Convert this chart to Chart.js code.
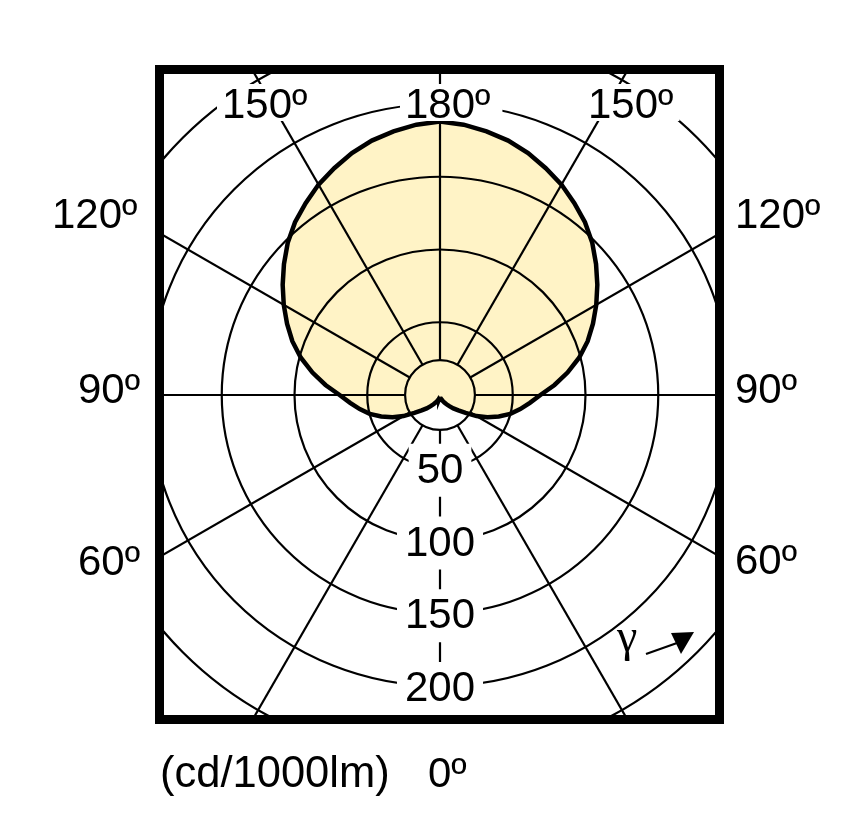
<!DOCTYPE html>
<html>
<head>
<meta charset="utf-8">
<script src="https://cdn.jsdelivr.net/npm/chart.js@4.4.1/dist/chart.umd.min.js"></script>
<style>
html,body{margin:0;padding:0;background:#fff;}
canvas{display:block;}
</style>
</head>
<body>
<canvas id="c" width="863" height="833"></canvas>
<script>
// ---- data (gamma in degrees, intensity in cd/1000lm) ----
const gammaDeg = [0,5,10,15,20,25,30,35,40,45,50,55,60,65,70,75,80,85,90,95,100,105,110,115,120,125,130,135,140,145,150,155,160,165,170,175,180];
const intensity = [1.5,1.6,2,2.6,3.5,4.6,6,7.8,10,13,16.5,21.5,29,36,43,50,56,62,69,79,89,99,108,116,124,132,140,148,155,161,167,172,177,181,184,186.5,188];
const ringValues = [24,50,100,150,200,250,300];
const ringLabelValues = [50,100,150,200];
const spokeAngles = [0,30,60,90,120,150,180,210,240,270,300,330];
const angleLabelTexts = ['150º','180º','150º','120º','120º','90º','90º','60º','60º','0º'];
const unitLabel = '(cd/1000lm)';
const gammaSymbol = 'γ';

// closed outline: left half 0 -> 180, right half 180 -> 0
const outline = [];
for (let i = 0; i < gammaDeg.length; i++) {
  const g = gammaDeg[i] * Math.PI / 180;
  outline.push({x: -intensity[i] * Math.sin(g), y: -intensity[i] * Math.cos(g)});
}
for (let i = gammaDeg.length - 1; i >= 0; i--) {
  const g = gammaDeg[i] * Math.PI / 180;
  outline.push({x: intensity[i] * Math.sin(g), y: -intensity[i] * Math.cos(g)});
}

const FONT = '42px "Liberation Sans", Arial, sans-serif';

const gridPlugin = {
  id: 'polarGrid',
  beforeDatasetDraw(chart) {
    const {ctx, chartArea: a, scales: {x, y}} = chart;
    const cx = x.getPixelForValue(0), cy = y.getPixelForValue(0);
    const k = x.getPixelForValue(1) - cx;
    ctx.save();
    ctx.beginPath();
    ctx.rect(a.left, a.top, a.right - a.left, a.bottom - a.top);
    ctx.clip();
    ctx.strokeStyle = '#000';
    ctx.lineWidth = 2.2;
    ringValues.forEach(v => {
      ctx.beginPath();
      ctx.arc(cx, cy, v * k, 0, Math.PI * 2);
      ctx.stroke();
    });
    const r0 = ringValues[0] * k;
    spokeAngles.forEach(ang => {
      const g = ang * Math.PI / 180;
      const dx = Math.sin(g), dy = Math.cos(g);
      ctx.beginPath();
      ctx.moveTo(cx + dx * r0, cy + dy * r0);
      ctx.lineTo(cx + dx * 800, cy + dy * 800);
      ctx.stroke();
    });
    ctx.restore();
  }
};

function label(ctx, text, x, baseline, align, bg, padL, padR, padT, padB, font) {
  ctx.font = font || FONT;
  const w = ctx.measureText(text).width;
  let left = align === 'center' ? x - w / 2 : x;
  if (bg) {
    ctx.fillStyle = '#fff';
    ctx.fillRect(left - padL, baseline - 30 - padT, w + padL + padR, 30 + padT + padB);
  }
  ctx.fillStyle = '#000';
  ctx.textAlign = 'left';
  ctx.textBaseline = 'alphabetic';
  ctx.fillText(text, left, baseline);
}

const annotPlugin = {
  id: 'annot',
  afterDatasetsDraw(chart) {
    const {ctx, chartArea: a, scales: {x, y}} = chart;
    const cx = x.getPixelForValue(0);
    ctx.save();
    // ring value labels along the 0º axis
    ringLabelValues.forEach(v => {
      const py = y.getPixelForValue(-v);
      label(ctx, String(v), cx, py + 15, 'center', true, 8, 8, 9, 14);
    });
    // angle labels
    const L = angleLabelTexts;
    label(ctx, L[0], 222, 118, 'left', true, 5, 6, 4, 3);
    label(ctx, L[1], 405, 118, 'left', true, 5, 12, 4, 3);
    label(ctx, L[2], 588, 118, 'left', true, 5, 6, 4, 3);
    label(ctx, L[3], 52, 228, 'left', false);
    label(ctx, L[4], 735, 228, 'left', false);
    label(ctx, L[5], 78, 403, 'left', false);
    label(ctx, L[6], 735, 403, 'left', false);
    label(ctx, L[7], 78, 575, 'left', false);
    label(ctx, L[8], 735, 574, 'left', false);
    label(ctx, unitLabel, 160, 787, 'left', false, 0, 0, 0, 0, '43.5px "Liberation Sans", Arial, sans-serif');
    label(ctx, L[9], 428, 787, 'left', false);

    // gamma with arrow
    ctx.fillStyle = '#000';
    ctx.font = '46px "Liberation Serif", "Times New Roman", serif';
    ctx.textAlign = 'left';
    ctx.textBaseline = 'alphabetic';
    ctx.fillText(gammaSymbol, 617, 651);
    ctx.strokeStyle = '#000';
    ctx.lineWidth = 2.2;
    ctx.beginPath();
    ctx.moveTo(646, 654);
    ctx.lineTo(677, 643);
    ctx.stroke();
    ctx.beginPath();
    ctx.moveTo(694, 632);
    ctx.lineTo(671, 633);
    ctx.lineTo(681, 654);
    ctx.closePath();
    ctx.fill();

    // frame
    ctx.strokeStyle = '#000';
    ctx.lineWidth = 9;
    ctx.strokeRect(a.left - 4.5, a.top - 4.5, a.right - a.left + 9, a.bottom - a.top + 9);
    ctx.restore();
  }
};

new Chart(document.getElementById('c'), {
  type: 'scatter',
  data: {
    datasets: [{
      data: outline,
      showLine: true,
      fill: 'shape',
      backgroundColor: '#FFF3C6',
      borderColor: '#000',
      borderWidth: 4.5,
      pointRadius: 0,
      tension: 0
    }]
  },
  options: {
    responsive: false,
    animation: false,
    layout: {padding: {left: 164, top: 74, right: 148, bottom: 118}},
    plugins: {legend: {display: false}, tooltip: {enabled: false}},
    scales: {
      x: {type: 'linear', display: false, min: -189.69, max: 189.0},
      y: {type: 'linear', display: false, min: -219.93, max: 220.62}
    }
  },
  plugins: [gridPlugin, annotPlugin]
});
</script>
</body>
</html>
